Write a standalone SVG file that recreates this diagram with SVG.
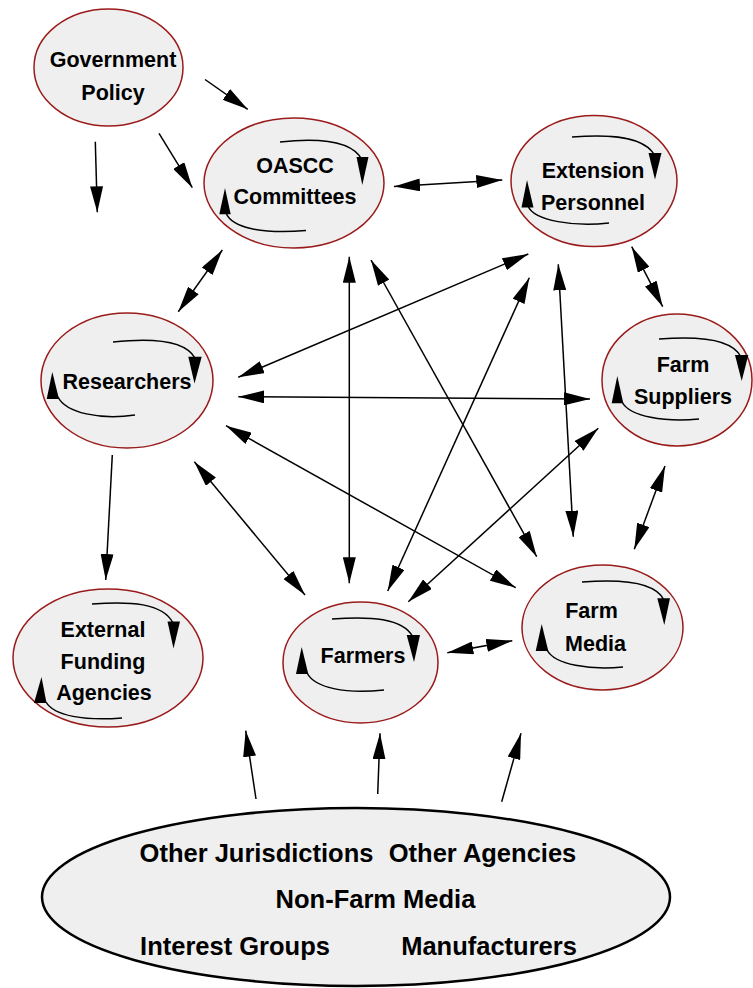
<svg xmlns="http://www.w3.org/2000/svg" width="753" height="988" viewBox="0 0 753 988">
<style>
.node{fill:#efefef;stroke:#9a1b1b;stroke-width:1.5}
.big{fill:#efefef;stroke:#000;stroke-width:2.5}
.t{font-family:"Liberation Sans",Arial,sans-serif;font-weight:bold;font-size:21.5px;fill:#000;text-anchor:middle}
.tb{font-family:"Liberation Sans",Arial,sans-serif;font-weight:bold;font-size:25.5px;fill:#000;text-anchor:middle}
.loop{fill:none;stroke:#000;stroke-width:1.5}
.tri{fill:#000}
.c line{stroke:#000;stroke-width:1.5}
.one{marker-end:url(#ah)}
.two{marker-end:url(#ah);marker-start:url(#ah)}
</style>
<defs>
<marker id="ah" markerUnits="userSpaceOnUse" markerWidth="26" markerHeight="13" viewBox="0 0 26 13" refX="26" refY="6.5" orient="auto-start-reverse">
<path d="M0,0 L26,6.5 L0,13 z" fill="#000"/>
</marker>
</defs>
<rect width="753" height="988" fill="#fff"/>

<g id="connectors" class="c">
<line class="one" x1="205" y1="79.5" x2="247.7" y2="109.3"/>
<line class="one" x1="159" y1="133.3" x2="192.3" y2="187.7"/>
<line class="one" x1="95.3" y1="141.7" x2="97.3" y2="212.3"/>
<line class="two" x1="394" y1="186.5" x2="502.3" y2="180"/>
<line class="two" x1="222.3" y1="250" x2="178.3" y2="311.7"/>
<line class="two" x1="631.7" y1="246.7" x2="662.7" y2="306.7"/>
<line class="two" x1="528.3" y1="254" x2="238.3" y2="377.3"/>
<line class="two" x1="238.3" y1="396.7" x2="590" y2="399"/>
<line class="two" x1="226" y1="425.7" x2="515.7" y2="587.7"/>
<line class="two" x1="194.3" y1="461.7" x2="305" y2="595"/>
<line class="two" x1="349.3" y1="256.7" x2="349.3" y2="583.3"/>
<line class="two" x1="371" y1="260" x2="536.7" y2="556.7"/>
<line class="two" x1="529.3" y1="277.7" x2="387.7" y2="591"/>
<line class="two" x1="558.3" y1="264.3" x2="573.3" y2="536.7"/>
<line class="two" x1="598.3" y1="428.3" x2="408.3" y2="601.7"/>
<line class="two" x1="665" y1="466" x2="634.3" y2="549.3"/>
<line class="two" x1="447.3" y1="652.7" x2="512.3" y2="640.7"/>
<line class="one" x1="112.3" y1="455" x2="105.7" y2="580"/>
<line class="one" x1="256" y1="799" x2="245.7" y2="730.7"/>
<line class="one" x1="377.7" y1="794" x2="380" y2="733.3"/>
<line class="one" x1="501.7" y1="801.7" x2="521" y2="733.3"/>
</g>

<g id="government-policy">
<ellipse class="node" cx="108.5" cy="67.5" rx="74.5" ry="58.5"/>
<text class="t" x="113" y="67">Government</text>
<text class="t" x="113" y="99.5">Policy</text>
</g>

<g id="oascc-committees">
<ellipse class="node" cx="294" cy="183" rx="90" ry="65"/>
<path class="loop" d="M280,142 C318,138 352,140 362,160"/>
<polygon class="tri" points="356.5,157 368.5,157 362.3,185"/>
<path class="loop" d="M226,213 C232,228 262,234 306,230.5"/>
<polygon class="tri" points="219.3,214.3 230.7,214.3 225,188"/>
<text class="t" x="295" y="173">OASCC</text>
<text class="t" x="295" y="204">Committees</text>
</g>

<g id="extension-personnel">
<ellipse class="node" cx="594" cy="181" rx="83" ry="65.5"/>
<path class="loop" d="M572,137 C610,134 645,136 655,156"/>
<polygon class="tri" points="648.5,153 661.5,153 655,179.5"/>
<path class="loop" d="M528,206 C534,221 575,227 609,223"/>
<polygon class="tri" points="521.5,207.5 533.5,207.5 527,180"/>
<text class="t" x="593" y="177.5">Extension</text>
<text class="t" x="593" y="210">Personnel</text>
</g>

<g id="farm-suppliers">
<ellipse class="node" cx="677" cy="380" rx="75" ry="66"/>
<path class="loop" d="M659,339 C697,336 732,338 741,357"/>
<polygon class="tri" points="735,355 748.3,355 741.7,381"/>
<path class="loop" d="M622,402 C630,417 665,422 699,419"/>
<polygon class="tri" points="611.7,403.3 623.3,403.3 617.3,376"/>
<text class="t" x="683" y="372">Farm</text>
<text class="t" x="683" y="404">Suppliers</text>
</g>

<g id="researchers">
<ellipse class="node" cx="127" cy="380.5" rx="86" ry="67.5"/>
<path class="loop" d="M113,342 C150,338 185,340 195,358"/>
<polygon class="tri" points="188.3,356.7 201.7,356.7 194.5,383.5"/>
<path class="loop" d="M58,397 C66,413 100,420 135,415"/>
<polygon class="tri" points="46.7,399 59,399 52.3,372"/>
<text class="t" x="127" y="389">Researchers</text>
</g>

<g id="external-funding-agencies">
<ellipse class="node" cx="108" cy="658" rx="95" ry="69"/>
<path class="loop" d="M92,604 C130,601 163,603 173,623"/>
<polygon class="tri" points="167.5,621.5 180,621.5 173.5,648.5"/>
<path class="loop" d="M46,702 C54,716 85,721 122,718"/>
<polygon class="tri" points="34,703 46.5,703 41.5,677"/>
<text class="t" x="103" y="637">External</text>
<text class="t" x="103" y="669">Funding</text>
<text class="t" x="104" y="700">Agencies</text>
</g>

<g id="farmers">
<ellipse class="node" cx="360.5" cy="662.5" rx="77.5" ry="60.5"/>
<path class="loop" d="M332,619 C370,616 403,618 413,637"/>
<polygon class="tri" points="406.7,635 420,635 414,662"/>
<path class="loop" d="M307,673 C315,688 345,694 384,690"/>
<polygon class="tri" points="296,674 308.3,674 301.7,647"/>
<text class="t" x="363" y="663">Farmers</text>
</g>

<g id="farm-media">
<ellipse class="node" cx="602.5" cy="627.5" rx="80.5" ry="62.5"/>
<path class="loop" d="M582,582 C620,579 655,581 664,600"/>
<polygon class="tri" points="657.3,598.3 670,598.3 664.3,625"/>
<path class="loop" d="M547,650 C555,665 590,670 623,667"/>
<polygon class="tri" points="535.7,651 548.3,651 541.7,624"/>
<text class="t" x="591.5" y="618">Farm</text>
<text class="t" x="595.5" y="651">Media</text>
</g>

<g id="external-environment">
<ellipse class="big" cx="356" cy="897" rx="314" ry="89"/>
<text class="tb" x="256.5" y="862">Other Jurisdictions</text>
<text class="tb" x="482.5" y="862">Other Agencies</text>
<text class="tb" x="375.5" y="908">Non-Farm Media</text>
<text class="tb" x="235" y="955">Interest Groups</text>
<text class="tb" x="489" y="955">Manufacturers</text>
</g>
</svg>
